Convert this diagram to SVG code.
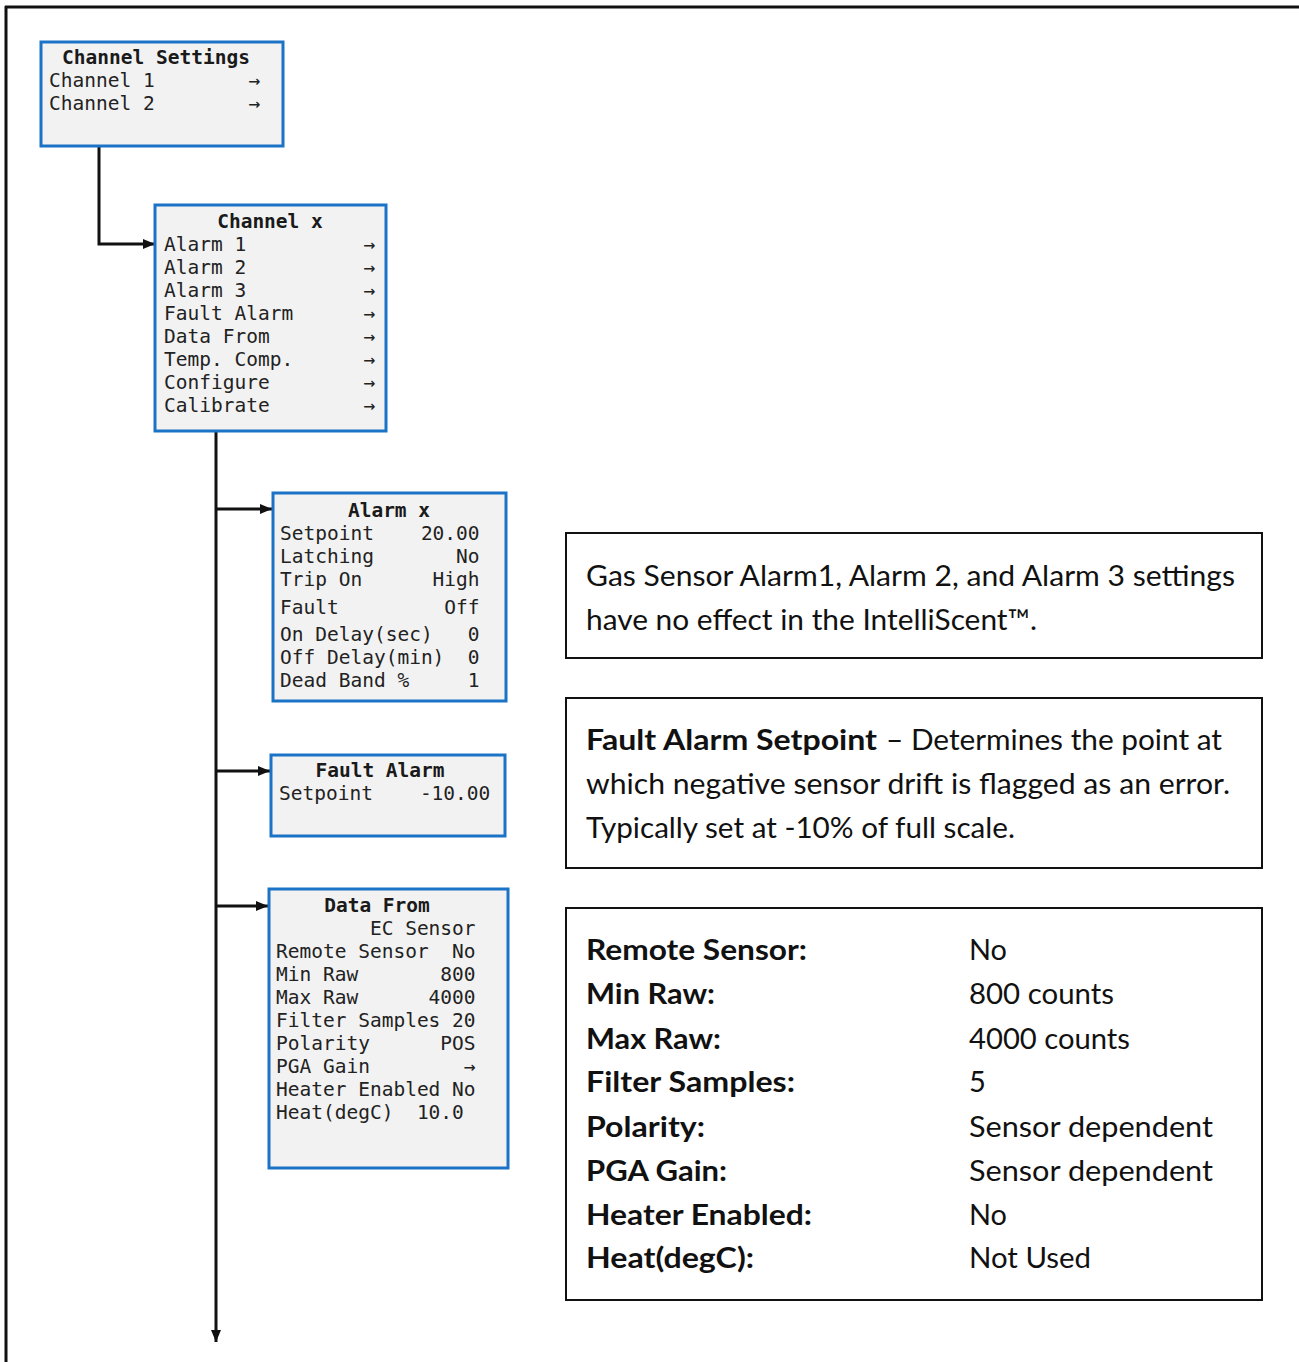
<svg xmlns="http://www.w3.org/2000/svg" width="1299" height="1362" viewBox="0 0 1299 1362" xml:space="preserve">
<style>
.node{fill:#f2f2f2;stroke:#1a73c6;stroke-width:3}
.m{font-family:"DejaVu Sans Mono","Liberation Mono",monospace;font-size:19.5px;fill:#222;white-space:pre}
.mb{font-family:"DejaVu Sans Mono","Liberation Mono",monospace;font-size:19.5px;font-weight:bold;fill:#1a1a1a;white-space:pre}
.note{fill:#fff;stroke:#111;stroke-width:2}
.t{font-family:Lato,"Open Sans",sans-serif;font-size:29px;fill:#111}
.tb{font-family:Lato,"Open Sans",sans-serif;font-size:29px;font-weight:bold;fill:#111}
.c{fill:none;stroke:#111;stroke-width:3}
</style>
<defs>
<marker id="ah" viewBox="0 0 12 10" refX="12" refY="5" markerWidth="12" markerHeight="10" markerUnits="userSpaceOnUse" orient="auto">
<path d="M0,0 L12,5 L0,10 Z" fill="#111"/>
</marker>
</defs>
<rect width="1299" height="1362" fill="#fff"/>
<g id="frame">
<line x1="5" y1="7" x2="1299" y2="7" stroke="#111" stroke-width="3"/>
<line x1="6" y1="6" x2="6" y2="1362" stroke="#111" stroke-width="3"/>
</g>
<g id="connectors">
<path class="c" d="M99,146 V244 H155" marker-end="url(#ah)"/>
<path class="c" d="M216,431 V1342" marker-end="url(#ah)"/>
<path class="c" d="M216,509 H272" marker-end="url(#ah)"/>
<path class="c" d="M216,771 H270" marker-end="url(#ah)"/>
<path class="c" d="M216,906 H268" marker-end="url(#ah)"/>
</g>
<g id="channel-settings">
<rect class="node" x="41" y="42" width="242" height="104"/>
<text class="mb" x="156" y="64" text-anchor="middle">Channel Settings</text>
<text class="m" x="49" y="87">Channel 1        →</text>
<text class="m" x="49" y="110">Channel 2        →</text>
</g>
<g id="channel-x">
<rect class="node" x="155" y="205" width="231" height="226"/>
<text class="mb" x="270" y="228" text-anchor="middle">Channel x</text>
<text class="m" x="164" y="251">Alarm 1          →</text>
<text class="m" x="164" y="274">Alarm 2          →</text>
<text class="m" x="164" y="297">Alarm 3          →</text>
<text class="m" x="164" y="320">Fault Alarm      →</text>
<text class="m" x="164" y="343">Data From        →</text>
<text class="m" x="164" y="366">Temp. Comp.      →</text>
<text class="m" x="164" y="389">Configure        →</text>
<text class="m" x="164" y="412">Calibrate        →</text>
</g>
<g id="alarm-x">
<rect class="node" x="273" y="493" width="233" height="208"/>
<text class="mb" x="389" y="517" text-anchor="middle">Alarm x</text>
<text class="m" x="280" y="540">Setpoint    20.00</text>
<text class="m" x="280" y="563">Latching       No</text>
<text class="m" x="280" y="586">Trip On      High</text>
<text class="m" x="280" y="614">Fault         Off</text>
<text class="m" x="280" y="641">On Delay(sec)   0</text>
<text class="m" x="280" y="664">Off Delay(min)  0</text>
<text class="m" x="280" y="687">Dead Band %     1</text>
</g>
<g id="fault-alarm">
<rect class="node" x="271" y="755" width="234" height="81"/>
<text class="mb" x="380" y="777" text-anchor="middle">Fault Alarm</text>
<text class="m" x="279" y="800">Setpoint    -10.00</text>
</g>
<g id="data-from">
<rect class="node" x="269" y="889" width="239" height="279"/>
<text class="mb" x="377" y="912" text-anchor="middle">Data From</text>
<text class="m" x="276" y="935">        EC Sensor</text>
<text class="m" x="276" y="958">Remote Sensor  No</text>
<text class="m" x="276" y="981">Min Raw       800</text>
<text class="m" x="276" y="1004">Max Raw      4000</text>
<text class="m" x="276" y="1027">Filter Samples 20</text>
<text class="m" x="276" y="1050">Polarity      POS</text>
<text class="m" x="276" y="1073">PGA Gain        →</text>
<text class="m" x="276" y="1096">Heater Enabled No</text>
<text class="m" x="276" y="1119">Heat(degC)  10.0</text>
</g>
<g id="note-alarms">
<rect class="note" x="566" y="533" width="696" height="125"/>
<text class="t" x="586" y="586" textLength="649" lengthAdjust="spacingAndGlyphs">Gas Sensor Alarm1, Alarm 2, and Alarm 3 settings</text>
<text class="t" x="586" y="630" textLength="451" lengthAdjust="spacingAndGlyphs">have no effect in the IntelliScent™.</text>
</g>
<g id="note-fault">
<rect class="note" x="566" y="698" width="696" height="170"/>
<text class="tb" x="586" y="750" textLength="291" lengthAdjust="spacingAndGlyphs">Fault Alarm Setpoint</text>
<text class="t" x="886" y="750" textLength="336" lengthAdjust="spacingAndGlyphs">– Determines the point at</text>
<text class="t" x="586" y="794" textLength="644" lengthAdjust="spacingAndGlyphs">which negative sensor drift is flagged as an error.</text>
<text class="t" x="586" y="838" textLength="429" lengthAdjust="spacingAndGlyphs">Typically set at -10% of full scale.</text>
</g>
<g id="note-defaults">
<rect class="note" x="566" y="908" width="696" height="392"/>
<text class="tb" x="586" y="960" textLength="221" lengthAdjust="spacingAndGlyphs">Remote Sensor:</text>
<text class="tb" x="586" y="1004" textLength="129" lengthAdjust="spacingAndGlyphs">Min Raw:</text>
<text class="tb" x="586" y="1049" textLength="135" lengthAdjust="spacingAndGlyphs">Max Raw:</text>
<text class="tb" x="586" y="1092" textLength="209" lengthAdjust="spacingAndGlyphs">Filter Samples:</text>
<text class="tb" x="586" y="1137" textLength="119" lengthAdjust="spacingAndGlyphs">Polarity:</text>
<text class="tb" x="586" y="1181" textLength="141" lengthAdjust="spacingAndGlyphs">PGA Gain:</text>
<text class="tb" x="586" y="1225" textLength="226" lengthAdjust="spacingAndGlyphs">Heater Enabled:</text>
<text class="tb" x="586" y="1268" textLength="168" lengthAdjust="spacingAndGlyphs">Heat(degC):</text>
<text class="t" x="969" y="960" textLength="38" lengthAdjust="spacingAndGlyphs">No</text>
<text class="t" x="969" y="1004" textLength="145" lengthAdjust="spacingAndGlyphs">800 counts</text>
<text class="t" x="969" y="1049" textLength="161" lengthAdjust="spacingAndGlyphs">4000 counts</text>
<text class="t" x="969" y="1092">5</text>
<text class="t" x="969" y="1137" textLength="244" lengthAdjust="spacingAndGlyphs">Sensor dependent</text>
<text class="t" x="969" y="1181" textLength="244" lengthAdjust="spacingAndGlyphs">Sensor dependent</text>
<text class="t" x="969" y="1225" textLength="38" lengthAdjust="spacingAndGlyphs">No</text>
<text class="t" x="969" y="1268" textLength="122" lengthAdjust="spacingAndGlyphs">Not Used</text>
</g>
</svg>
